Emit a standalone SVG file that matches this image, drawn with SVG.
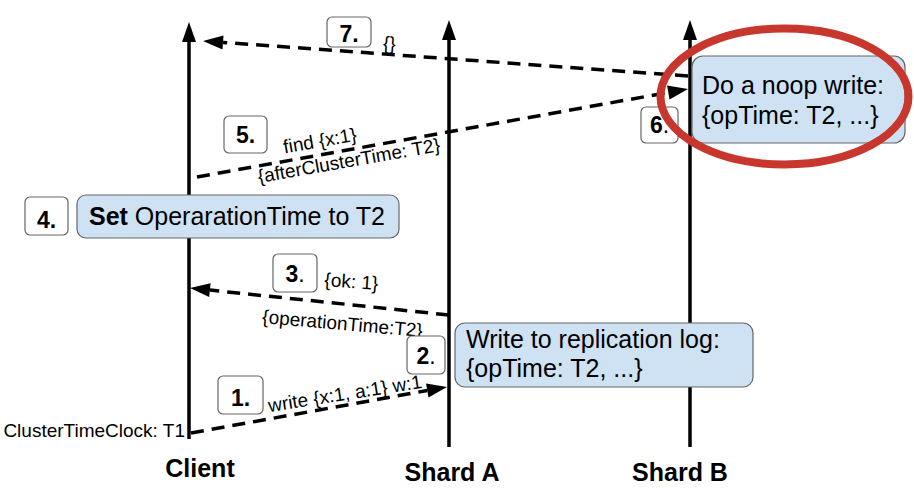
<svg xmlns="http://www.w3.org/2000/svg" width="914" height="492" viewBox="0 0 914 492">
<style>
text{font-family:"Liberation Sans",Arial,sans-serif;fill:#000}
.life{stroke:#000;stroke-width:3.5;fill:none}
.msg{stroke:#000;stroke-width:3.5;fill:none;stroke-dasharray:13 8}
.num{fill:#fff;stroke:#666;stroke-width:1.2}
.numt{font-size:23px;font-weight:bold;text-anchor:middle}
.act{fill:#cfe2f3;stroke:#666;stroke-width:1.2}
.actt{font-size:25px}
.lbl{font-size:19px}
.head{font-size:25px;font-weight:bold;text-anchor:middle}
</style>
<defs>
<marker id="ah" markerUnits="userSpaceOnUse" markerWidth="21" markerHeight="14" refX="0" refY="7" orient="auto" overflow="visible">
<path d="M0,0 L20,7 L0,14 z" fill="#000"/>
</marker>
</defs>
<rect width="914" height="492" fill="#fff"/>
<g id="lifelines">
<line class="life" x1="189" y1="439" x2="189" y2="42" marker-end="url(#ah)"/>
<line class="life" x1="449" y1="447" x2="449" y2="40" marker-end="url(#ah)"/>
<line class="life" x1="690" y1="447" x2="690" y2="40" marker-end="url(#ah)"/>
</g>
<g id="connectors">
<line class="msg" x1="688" y1="76" x2="223" y2="42.4" marker-end="url(#ah)"/>
<line class="msg" x1="197" y1="177" x2="668.3" y2="92.5" marker-end="url(#ah)"/>
<line class="msg" x1="449" y1="315" x2="209.9" y2="290.1" marker-end="url(#ah)"/>
<line class="msg" x1="191" y1="433" x2="427.3" y2="390.5" marker-end="url(#ah)"/>
</g>
<g id="labels">
<text class="lbl" x="389" y="50" text-anchor="middle" transform="rotate(4 389 50)">{}</text>
<text class="lbl" x="321" y="147" text-anchor="middle" transform="rotate(-10 321 147)">find {x:1}</text>
<text class="lbl" x="350" y="167" text-anchor="middle" transform="rotate(-10 350 167)">{afterClusterTime: T2}</text>
<text class="lbl" x="351" y="288" text-anchor="middle" transform="rotate(4 351 288)">{ok: 1}</text>
<text class="lbl" x="342" y="330" text-anchor="middle" transform="rotate(5 342 330)">{operationTime:T2}</text>
<text class="lbl" x="346" y="400" text-anchor="middle" transform="rotate(-9 346 400)">write {x:1, a:1} w:1</text>
<text class="lbl" x="185" y="437" text-anchor="end">ClusterTimeClock: T1</text>
</g>
<g id="step7"><rect class="num" x="327" y="17" width="44" height="30" rx="5"/><text class="numt" x="349" y="42">7.</text></g>
<g id="step5"><rect class="num" x="224" y="116" width="43" height="37" rx="5"/><text class="numt" x="245.5" y="143">5.</text></g>
<g id="step6"><rect class="num" x="641" y="107" width="37" height="36" rx="5"/><text class="numt" x="659.5" y="133">6<tspan font-weight="normal">.</tspan></text></g>
<g id="noop"><rect class="act" x="692" y="56" width="213" height="87" rx="11"/><text class="actt" x="702" y="94">Do a noop write:</text><text class="actt" x="702" y="124">{opTime: T2, ...}</text></g>
<g id="step4"><rect class="num" x="25" y="197" width="43" height="38" rx="5"/><text class="numt" x="46.5" y="228">4.</text></g>
<g id="setop"><rect class="act" x="77" y="195" width="322" height="43" rx="9"/><text class="actt" x="89" y="225"><tspan font-weight="bold">Set</tspan> OperarationTime to T2</text></g>
<g id="step3"><rect class="num" x="273" y="254" width="44" height="38" rx="5"/><text class="numt" x="295" y="282">3<tspan font-weight="normal">.</tspan></text></g>
<g id="step2"><rect class="num" x="407" y="336" width="38" height="38" rx="5"/><text class="numt" x="426" y="364">2<tspan font-weight="normal">.</tspan></text></g>
<g id="writelog"><rect class="act" x="455" y="323" width="298" height="64" rx="10"/><text class="actt" x="466" y="348">Write to replication log:</text><text class="actt" x="466" y="377">{opTime: T2, ...}</text></g>
<g id="step1"><rect class="num" x="218" y="376" width="45" height="38" rx="5"/><text class="numt" x="240.5" y="406">1.</text></g>
<g id="highlight"><ellipse cx="784.5" cy="96.5" rx="124" ry="68" fill="none" stroke="#c8372d" stroke-width="8"/></g>
<g id="headers">
<text class="head" x="200" y="477">Client</text>
<text class="head" x="452" y="481">Shard A</text>
<text class="head" x="680" y="481">Shard B</text>
</g>
</svg>
